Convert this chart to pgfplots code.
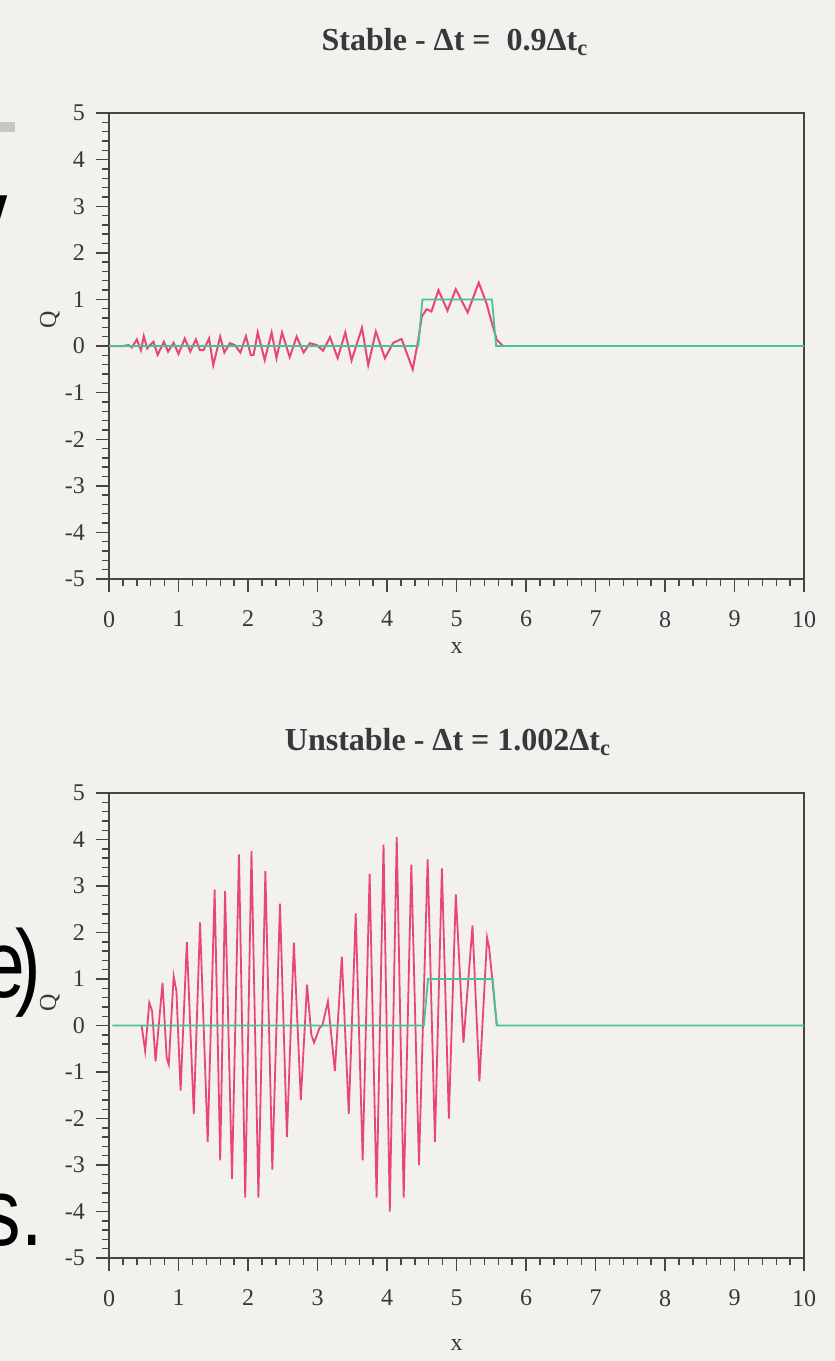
\documentclass[border=0pt]{standalone}
\usepackage{fontspec}
\setmainfont{Liberation Serif}
\setsansfont{Liberation Sans}
\newfontfamily\slidefont{Liberation Sans}[FakeStretch=0.8]
\usepackage{pgfplots}
\pgfplotsset{compat=1.18}
\newlength\px \setlength\px{0.5pt}
\definecolor{qred}{RGB}{232,70,118}
\definecolor{qgreen}{RGB}{72,196,146}
\definecolor{axgray}{RGB}{70,70,70}
\definecolor{paper}{RGB}{242,241,238}
\definecolor{txt}{RGB}{55,55,60}

\pgfplotstableread{
x y
0 0
0.20 0
0.28 0.02
0.33 -0.03
0.40 0.14
0.46 -0.09
0.50 0.21
0.55 -0.05
0.59 0.02
0.64 0.09
0.70 -0.19
0.79 0.09
0.85 -0.12
0.93 0.07
1.00 -0.17
1.09 0.16
1.17 -0.12
1.25 0.14
1.31 -0.09
1.36 -0.09
1.44 0.16
1.50 -0.41
1.60 0.20
1.66 -0.14
1.74 0.06
1.81 0.02
1.89 -0.14
1.97 0.21
2.04 -0.19
2.08 -0.19
2.14 0.29
2.24 -0.30
2.34 0.29
2.41 -0.26
2.49 0.29
2.60 -0.24
2.70 0.20
2.80 -0.14
2.89 0.06
2.99 0.02
3.08 -0.10
3.18 0.19
3.29 -0.26
3.40 0.29
3.49 -0.31
3.64 0.39
3.73 -0.41
3.84 0.31
3.97 -0.26
4.09 0.07
4.21 0.15
4.37 -0.50
4.45 0.13
4.50 0.63
4.57 0.79
4.64 0.74
4.74 1.20
4.87 0.76
4.99 1.22
5.16 0.72
5.32 1.36
5.43 0.92
5.51 0.49
5.58 0.13
5.67 0.0
}\stablered

\pgfplotstableread{
x y
0 0
4.45 0
4.51 1
5.51 1
5.57 0
10 0
}\stablegreen

\pgfplotstableread{
x y
0.47 0.0
0.52 -0.55
0.58 0.49
0.62 0.31
0.67 -0.77
0.77 0.92
0.83 -0.70
0.86 -0.84
0.93 1.06
0.97 0.74
1.03 -1.40
1.12 1.79
1.22 -1.90
1.31 2.22
1.42 -2.50
1.52 2.92
1.60 -2.90
1.67 2.89
1.77 -3.30
1.87 3.68
1.96 -3.70
2.05 3.75
2.15 -3.70
2.25 3.32
2.35 -3.10
2.46 2.62
2.56 -2.40
2.66 1.78
2.76 -1.60
2.85 0.88
2.91 -0.19
2.95 -0.37
3.03 -0.05
3.07 0.0
3.15 0.52
3.25 -0.98
3.35 1.48
3.45 -1.90
3.55 2.41
3.65 -2.90
3.75 3.26
3.85 -3.70
3.95 3.89
4.04 -4.00
4.14 4.05
4.24 -3.70
4.35 3.46
4.46 -3.00
4.585 3.57
4.69 -2.50
4.79 3.38
4.89 -2.00
4.99 2.82
5.10 -0.37
5.23 2.15
5.33 -1.20
5.44 1.89
5.47 1.67
5.58 0.0
}\unstablered

\pgfplotstableread{
x y
0.05 0
4.53 0
4.59 1
5.52 1
5.58 0
10 0
}\unstablegreen

\pgfplotsset{qstyle/.style={
  scale only axis, width=695\px, height=466\px,
  xmin=0, xmax=10, ymin=-5, ymax=5,
  xtick={0,1,...,10}, ytick={-5,-4,...,5},
  minor x tick num=4, minor y tick num=4,
  tick align=outside, xtick pos=left, ytick pos=left,
  major tick length=13\px, minor tick length=7\px,
  axis line style={axgray, line width=0.9pt},
  every tick/.style={axgray, line width=0.7pt},
  tick label style={font=\fontsize{12}{14}\selectfont, text=txt},
  xticklabel style={yshift=-12\px},
  yticklabel style={xshift=-4\px},
  /pgf/number format/assume math mode=true,
  xlabel={x}, ylabel={Q},
  label style={font=\fontsize{12}{14}\selectfont, text=txt},
  clip=false,
}}

\begin{document}
\begin{tikzpicture}
\useasboundingbox (0,0) rectangle (835\px,-1361\px);
\fill[paper] (0,0) rectangle (835\px,-1361\px);
% fragments of slide text at the left edge
\fill[gray!45] (0,-122\px) rectangle (15\px,-132\px);
\node[anchor=base east, inner sep=0, font=\slidefont\fontsize{48}{56}\selectfont] at (8\px,-246\px) {y};
\node[anchor=base east, inner sep=0, font=\slidefont\fontsize{48}{56}\selectfont] at (41\px,-997\px) {e\kern-5pt)};
\node[anchor=base east, inner sep=0, font=\slidefont\fontsize{48}{56}\selectfont] at (43\px,-1245\px) {s.};
% titles
\node[font=\bfseries\fontsize{16}{18}\selectfont, text=txt] at (455\px,-42\px) {Stable - Δt =\ \ 0.9Δt\textsubscript{c}};
\node[font=\bfseries\fontsize{16}{18}\selectfont, text=txt] at (448\px,-742\px) {Unstable - Δt = 1.002Δt\textsubscript{c}};

\begin{axis}[qstyle, at={(109\px,-579\px)}, anchor=south west,
  xlabel style={at={(axis description cs:0.5,0)}, anchor=center, yshift=-69\px},
  ylabel style={at={(axis description cs:-0.085,0.556)}, anchor=center}]
\addplot[qred, line width=1pt] table[x=x,y=y] {\stablered};
\addplot[qgreen, line width=0.9pt] table[x=x,y=y] {\stablegreen};
\end{axis}

\begin{axis}[qstyle, height=465\px, at={(109\px,-1258\px)}, anchor=south west,
  xlabel style={at={(axis description cs:0.5,0)}, anchor=center, yshift=-87\px},
  ylabel style={at={(axis description cs:-0.085,0.548)}, anchor=center}]
\addplot[qred, line width=0.9pt] table[x=x,y=y] {\unstablered};
\addplot[qgreen, line width=0.9pt] table[x=x,y=y] {\unstablegreen};
\end{axis}
\end{tikzpicture}
\end{document}
